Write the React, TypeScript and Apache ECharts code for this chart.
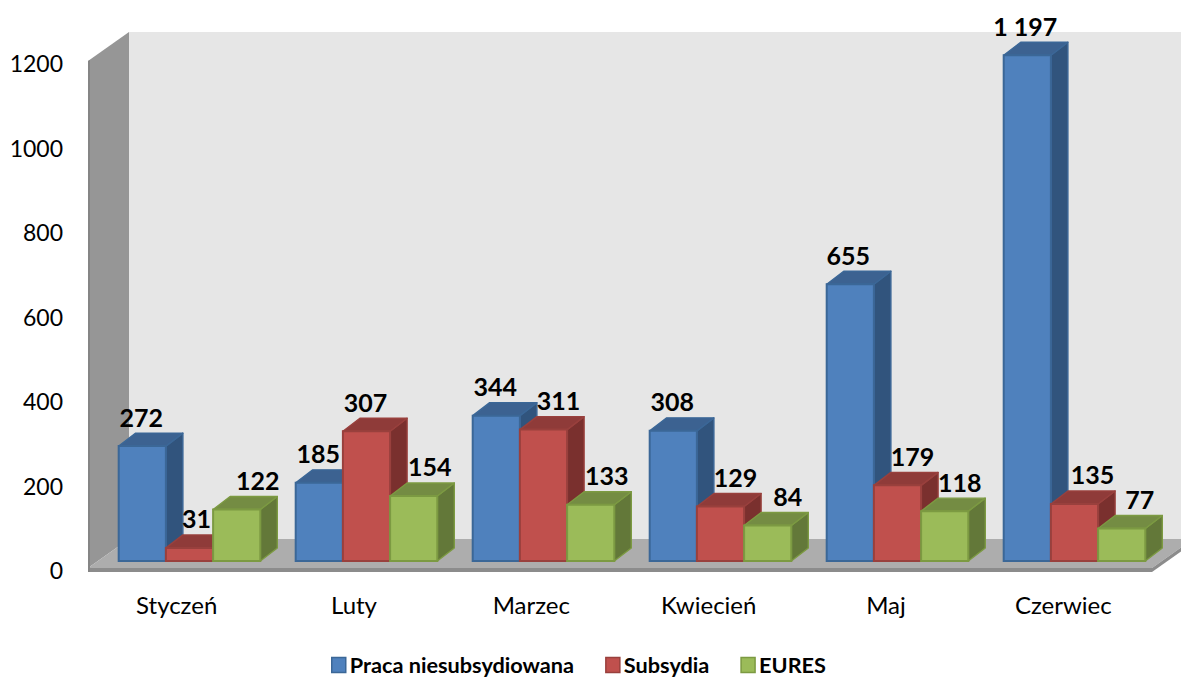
import React, { useEffect, useRef } from "react";
import * as echarts from "echarts";

const categories = ["Styczeń", "Luty", "Marzec", "Kwiecień", "Maj", "Czerwiec"];
const pracaValues = [272, 185, 344, 308, 655, 1197];
const subsydiaValues = [31, 307, 311, 129, 179, 135];
const euresValues = [122, 154, 133, 84, 118, 77];

// sideways shift of the data labels, px (as placed in the reference)
const pracaLabelShift = [-1, -1, -1, -1, -2, -2];
const subsydiaLabelShift = [7, -1, 15, 15, 15, 18];
const euresLabelShift = [21, 16, 16, 20, 15, 18];

const FONT = "Lato";
const BAR_SHARE = 1 / 3.75;
const BAR_DX = 17;
const BAR_DY = 13;
const WALL_DX = 41;
const WALL_DY = 29;
const WALL_RAISE = 2; // the tick labels sit slightly below the wall's corners

const seriesDefs = [
  { name: "Praca niesubsydiowana", values: pracaValues, shift: pracaLabelShift, face: "#4f81bd", edge: "#3b6797", top: "#3c6291", side: "#31547d", slot: -1 },
  { name: "Subsydia", values: subsydiaValues, shift: subsydiaLabelShift, face: "#c0504d", edge: "#99403d", top: "#8f3b39", side: "#7a302e", slot: 0 },
  { name: "EURES", values: euresValues, shift: euresLabelShift, face: "#9bbb59", edge: "#7c9a42", top: "#748c43", side: "#637839", slot: 1 },
];

const formatValue = (v: number) => String(v).replace(/\B(?=(\d{3})+$)/g, " ");

const wallsRender = (params: any) => {
  const { x, y, width, height } = params.coordSys;
  const fx0 = x;
  const fx1 = x + width;
  const fy0 = y + height - WALL_RAISE;
  const fyTop = y - WALL_RAISE;
  const poly = (points: number[][], fill: string, stroke?: string) => ({
    type: "polygon",
    silent: true,
    shape: { points },
    style: { fill, stroke: stroke || "none", lineWidth: stroke ? 1 : 0 },
  });
  return {
    type: "group",
    children: [
      poly([[fx0 + WALL_DX, fyTop - WALL_DY], [fx1 + WALL_DX, fyTop - WALL_DY], [fx1 + WALL_DX, fy0 - WALL_DY], [fx0 + WALL_DX, fy0 - WALL_DY]], "#e6e6e6"),
      poly([[fx0, fyTop], [fx0 + WALL_DX, fyTop - WALL_DY], [fx0 + WALL_DX, fy0 - WALL_DY], [fx0, fy0]], "#969696"),
      poly([[fx0, fy0], [fx0 + WALL_DX, fy0 - WALL_DY], [fx1 + WALL_DX, fy0 - WALL_DY], [fx1, fy0]], "#adadad"),
      poly([[fx0, fy0], [fx1, fy0], [fx1, fy0 + 4], [fx0, fy0 + 4]], "#8c8c8c"),
      poly([[fx1, fy0], [fx1 + WALL_DX, fy0 - WALL_DY], [fx1 + WALL_DX, fy0 - WALL_DY + 4], [fx1, fy0 + 4]], "#8c8c8c"),
      poly([[fx0, fyTop], [fx0 + 2, fyTop - 1], [fx0 + 2, fy0 + 4], [fx0, fy0 + 4]], "#858585"),
    ],
  };
};

const barRender = (def: (typeof seriesDefs)[number]) => (_params: any, api: any) => {
  const idx = api.value(0);
  const value = api.value(1);
  const band = api.size([1, 0])[0];
  const barW = band * BAR_SHARE;
  const [cx, baseY] = api.coord([idx, 0]);
  const [, topY] = api.coord([idx, value]);
  const x0 = cx + def.slot * barW - barW / 2;
  const x1 = x0 + barW;
  const poly = (points: number[][], fill: string) => ({
    type: "polygon",
    silent: true,
    shape: { points },
    style: { fill, stroke: def.edge, lineWidth: 1.4, lineJoin: "round" },
  });
  return {
    type: "group",
    children: [
      poly([[x1, baseY], [x1 + BAR_DX, baseY - BAR_DY], [x1 + BAR_DX, topY - BAR_DY], [x1, topY]], def.side),
      poly([[x0, topY], [x0 + BAR_DX, topY - BAR_DY], [x1 + BAR_DX, topY - BAR_DY], [x1, topY]], def.top),
      {
        type: "rect",
        silent: true,
        shape: { x: x0, y: topY, width: barW, height: baseY - topY },
        style: { fill: def.face, stroke: def.edge, lineWidth: 2 },
      },
      {
        type: "text",
        silent: true,
        z2: 100,
        style: {
          x: cx + def.slot * barW + def.shift[idx],
          y: topY - 29.5,
          text: formatValue(value),
          fill: "#000000",
          font: `bold 25px ${FONT}`,
          align: "center",
          verticalAlign: "middle",
        },
      },
    ],
  };
};

export default function App() {
  const ref = useRef<HTMLDivElement>(null);
  useEffect(() => {
    const chart = echarts.init(ref.current!, null, { renderer: "svg" });
    chart.setOption({
      animation: false,
      backgroundColor: "#ffffff",
      grid: [
        { left: 88, top: 63, width: 1064, height: 507 },
        { left: 101, top: 54, width: 1062, height: 507 },
      ],
      xAxis: [
        {
          type: "category",
          gridIndex: 0,
          data: categories,
          axisLine: { show: false },
          axisTick: { show: false },
          axisLabel: { margin: 22, color: "#000000", fontFamily: FONT, fontSize: 24 },
        },
        { type: "category", gridIndex: 1, data: categories, show: false },
      ],
      yAxis: [
        {
          type: "value",
          gridIndex: 0,
          min: 0,
          max: 1200,
          interval: 200,
          splitLine: { show: false },
          axisLine: { show: false },
          axisTick: { show: false },
          axisLabel: {
            margin: 25,
            color: "#000000",
            fontFamily: FONT,
            fontSize: 23,
            formatter: (v: number) => String(v),
          },
        },
        { type: "value", gridIndex: 1, min: 0, max: 1200, interval: 200, show: false },
      ],
      legend: {
        left: 331,
        top: 654,
        itemWidth: 14,
        itemHeight: 15,
        itemGap: 31,
        padding: 0,
        icon: "rect",
        selectedMode: false,
        textStyle: { color: "#000000", fontFamily: FONT, fontWeight: "bold", fontSize: 21.7, padding: [0, 0, 0, -1] },
        data: seriesDefs.map((d) => ({
          name: d.name,
          itemStyle: { color: d.face, borderColor: d.edge, borderWidth: 1.5 },
        })),
      },
      series: [
        {
          type: "custom",
          name: "walls",
          xAxisIndex: 0,
          yAxisIndex: 0,
          z: 0,
          silent: true,
          data: [[0, 0]],
          renderItem: wallsRender,
        },
        ...seriesDefs.map((d) => ({
          type: "custom",
          name: d.name,
          xAxisIndex: 1,
          yAxisIndex: 1,
          z: 2,
          itemStyle: { color: d.face },
          encode: { x: 0, y: 1 },
          data: d.values.map((v, i) => [i, v]),
          renderItem: barRender(d),
        })),
      ],
    });
    return () => chart.dispose();
  }, []);
  return <div ref={ref} style={{ position: "fixed", left: 0, top: 0, width: 1181, height: 677 }} />;
}
